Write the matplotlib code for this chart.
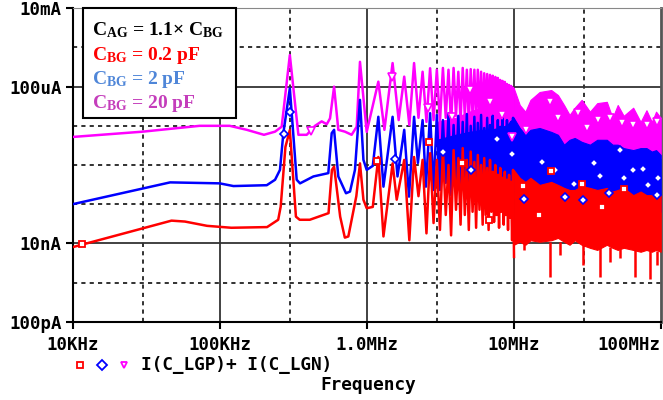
import matplotlib
matplotlib.use('Agg')
import matplotlib.pyplot as plt
from matplotlib.lines import Line2D
from matplotlib.patches import Rectangle
from matplotlib.ticker import NullLocator

plt.rcParams['mathtext.fontset'] = 'custom'
plt.rcParams['mathtext.rm'] = 'Liberation Serif:bold'
plt.rcParams['mathtext.it'] = 'Liberation Serif:bold'
plt.rcParams['mathtext.bf'] = 'Liberation Serif:bold'
plt.rcParams['lines.scale_dashes'] = False

# ---------------- data (frequency in Hz, current in A) ----------------
x_ticks = [1e4, 1e5, 1e6, 1e7, 1e8]
x_tick_labels = ['10KHz', '100KHz', '1.0MHz', '10MHz', '100MHz']
y_ticks = [1e-10, 1e-8, 1e-4, 1e-2]
y_tick_labels = ['100pA', '10nA', '100uA', '10mA']
grid_solid_x = [1e5, 1e6, 1e7]
grid_dash_x = [3e4, 3e5, 3e6, 3e7]
grid_solid_y = [1e-4, 1e-8]
grid_dash_y = [1e-3, 1e-5, 1e-6, 1e-7, 1e-9]

# low-frequency polylines (10 kHz .. 3 MHz)
red_f = [1.0e4, 4.7e4, 5.8e4, 8.2e4, 1.2e5, 2.1e5, 2.5e5, 2.6e5, 2.8e5, 3.0e5, 3.3e5, 3.5e5,
         4.1e5, 5.5e5, 5.8e5, 6.0e5, 6.6e5, 7.1e5, 7.5e5, 8.5e5, 9.0e5, 9.5e5, 1.0e6, 1.1e6,
         1.2e6, 1.3e6, 1.5e6, 1.6e6, 1.8e6, 1.95e6, 2.1e6, 2.25e6, 2.4e6, 2.55e6, 2.7e6, 2.85e6]
red_i = [8.0e-9, 3.8e-8, 3.6e-8, 2.8e-8, 2.5e-8, 2.6e-8, 4.0e-8, 8.7e-8, 2.9e-6, 7.8e-6, 4.8e-8, 4.0e-8,
         4.0e-8, 5.9e-8, 7.5e-7, 9.1e-7, 4.8e-8, 1.4e-8, 1.5e-8, 1.6e-7, 1.1e-6, 1.3e-7, 7.9e-8, 8.5e-8,
         1.6e-6, 1.5e-8, 1.1e-6, 1.3e-7, 1.35e-6, 1.2e-8, 1.6e-6, 1.6e-7, 1.35e-6, 1.8e-8, 2.0e-6, 3.3e-8]

blue_f = [1.0e4, 4.6e4, 1.0e5, 1.24e5, 2.09e5, 2.38e5, 2.57e5, 2.71e5, 3.0e5, 3.34e5, 3.52e5, 4.34e5,
          5.48e5, 5.78e5, 6.0e5, 6.41e5, 7.23e5, 7.7e5, 8.32e5, 9.0e5, 9.5e5, 1.0e6, 1.1e6, 1.2e6,
          1.3e6, 1.5e6, 1.62e6, 1.8e6, 1.94e6, 2.1e6, 2.23e6, 2.4e6, 2.53e6, 2.7e6, 2.85e6]
blue_i = [1.0e-7, 3.6e-7, 3.4e-7, 2.9e-7, 3.05e-7, 4.2e-7, 7.5e-7, 6.5e-6, 9.1e-5, 4.2e-7, 3.4e-7, 5.1e-7,
          6.2e-7, 6.5e-6, 7.9e-6, 5.1e-7, 1.9e-7, 2.1e-7, 7.5e-7, 4.6e-5, 1.35e-6, 7.5e-7, 9.5e-7, 1.7e-5,
          2.8e-7, 1.7e-5, 5.1e-7, 7.9e-6, 1.56e-7, 1.7e-5, 1.13e-6, 1.4e-5, 2.8e-7, 2.1e-5, 2.3e-7]

mag_f = [1.0e4, 3.0e4, 7.3e4, 1.17e5, 1.53e5, 2.0e5, 2.38e5, 2.64e5, 3.0e5, 3.43e5, 3.91e5, 4.45e5,
         4.94e5, 5.35e5, 5.63e5, 6.0e5, 6.41e5, 7.11e5, 7.9e5, 8.55e5, 9.0e5, 1.0e6, 1.2e6, 1.32e6,
         1.5e6, 1.65e6, 1.8e6, 1.95e6, 2.1e6, 2.25e6, 2.4e6, 2.55e6, 2.7e6, 2.85e6]
mag_i = [5.2e-6, 7.1e-6, 1.0e-5, 1.0e-5, 7.9e-6, 5.9e-6, 7.1e-6, 9.5e-6, 6.4e-4, 5.9e-6, 5.9e-6, 1.0e-5,
         1.3e-5, 1.1e-5, 1.55e-5, 1.0e-4, 7.9e-6, 7.1e-6, 5.9e-6, 9.5e-6, 4.3e-4, 7.0e-6, 1.34e-4, 7.9e-6,
         4.0e-4, 1.4e-5, 1.8e-4, 1.05e-5, 4.0e-4, 1.6e-5, 2.4e-4, 1.26e-5, 2.95e-4, 1.4e-5]

# 3 .. 10 MHz: harmonic peaks and the troughs between them
harm_f = [3.0e6, 3.3e6, 3.6e6, 3.9e6, 4.2e6, 4.5e6, 4.8e6, 5.1e6, 5.4e6, 5.7e6, 6.0e6, 6.3e6,
          6.6e6, 6.9e6, 7.2e6, 7.5e6, 7.8e6, 8.1e6, 8.4e6, 8.7e6, 9.0e6, 9.3e6, 9.6e6, 9.9e6]
trough_f = [3.15e6, 3.45e6, 3.75e6, 4.05e6, 4.35e6, 4.65e6, 4.95e6, 5.25e6, 5.55e6, 5.85e6, 6.15e6, 6.45e6,
            6.75e6, 7.05e6, 7.35e6, 7.65e6, 7.95e6, 8.25e6, 8.55e6, 8.85e6, 9.15e6, 9.45e6, 9.75e6, 1.005e7]
red_pk = [1.35e-6, 2.4e-6, 1.0e-6, 2.4e-6, 1.5e-6, 2.7e-6, 1.35e-6, 2.2e-6, 1.2e-6, 1.8e-6, 1.0e-6, 1.5e-6,
          8.4e-7, 1.35e-6, 6.7e-7, 1.0e-6, 5.6e-7, 8.4e-7, 4.7e-7, 6.7e-7, 4.2e-7, 5.6e-7, 3.7e-7, 7.5e-7]
red_tr = [2.2e-8, 5.3e-8, 1.6e-8, 7.2e-8, 3.0e-8, 5.3e-8, 2.2e-8, 6.4e-8, 2.5e-8, 7.2e-8, 3.0e-8, 5.3e-8,
          2.2e-8, 6.4e-8, 3.5e-8, 5.3e-8, 2.5e-8, 6.4e-8, 3.0e-8, 5.3e-8, 2.2e-8, 4.5e-8, 1.2e-8, 4.5e-9]
blue_pk = [1.9e-5, 1.4e-5, 2.1e-5, 1.05e-5, 1.8e-5, 1.26e-5, 2.0e-5, 1.0e-5, 1.7e-5, 1.19e-5, 1.9e-5, 8.8e-6,
           1.6e-5, 1.05e-5, 1.8e-5, 7.9e-6, 1.4e-5, 9.4e-6, 1.6e-5, 7.9e-6, 1.4e-5, 7.0e-6, 1.26e-5, 1.6e-5]
blue_tr = [2.3e-7, 3.5e-7, 1.7e-7, 4.2e-7, 2.3e-7, 3.1e-7, 1.7e-7, 3.7e-7, 2.0e-7, 3.1e-7, 1.7e-7, 3.5e-7,
           2.3e-7, 2.9e-7, 1.5e-7, 3.3e-7, 2.0e-7, 2.9e-7, 1.6e-7, 3.1e-7, 1.8e-7, 2.6e-7, 1.6e-7, 2.3e-7]
mag_pk = [2.7e-4, 3.0e-4, 2.7e-4, 3.0e-4, 2.4e-4, 3.0e-4, 2.7e-4, 2.8e-4, 2.7e-4, 2.7e-4, 2.4e-4, 2.2e-4,
          2.1e-4, 2.0e-4, 1.9e-4, 1.77e-4, 1.67e-4, 1.48e-4, 1.4e-4, 1.32e-4, 1.17e-4, 1.1e-4, 1.04e-4, 9.3e-5]
mag_tr = [1.26e-5, 1.6e-5, 1.05e-5, 1.8e-5, 1.26e-5, 1.7e-5, 1.12e-5, 1.8e-5, 1.4e-5, 1.6e-5, 1.05e-5, 1.8e-5,
          1.26e-5, 1.6e-5, 1.05e-5, 1.9e-5, 1.12e-5, 1.4e-5, 1.0e-5, 1.6e-5, 8.8e-6, 1.26e-5, 7.9e-6, 1.4e-5]

# 3 .. 10 MHz: solid cores under the spikes
core_f = [3.0e6, 4.0e6, 5.0e6, 6.0e6, 7.0e6, 8.0e6, 9.0e6, 1.0e7]
mag_core_hi = [1.26e-5, 1.6e-5, 2.3e-5, 2.9e-5, 2.9e-5, 2.5e-5, 2.3e-5, 4.0e-5]
mag_core_lo = [4.4e-6, 5.9e-6, 7.0e-6, 7.9e-6, 7.9e-6, 8.8e-6, 1.05e-5, 1.6e-5]
blue_core_hi = [4.4e-6, 5.9e-6, 7.0e-6, 7.9e-6, 7.9e-6, 8.8e-6, 1.05e-5, 1.6e-5]
blue_core_lo = [4.2e-7, 4.2e-7, 3.7e-7, 3.3e-7, 3.1e-7, 2.9e-7, 2.6e-7, 2.3e-7]

# 10 .. 100 MHz: dense band envelopes
band_f = [1.0e7, 1.1e7, 1.2e7, 1.3e7, 1.5e7, 1.8e7, 2.0e7, 2.2e7, 2.4e7, 2.6e7, 2.9e7, 3.3e7,
          3.7e7, 4.3e7, 4.7e7, 5.1e7, 5.6e7, 6.5e7, 7.3e7, 8.0e7, 8.7e7, 9.3e7, 1.0e8]
mag_hi = [9.3e-5, 3.4e-5, 2.3e-5, 4.6e-5, 7.3e-5, 8.2e-5, 6.1e-5, 3.4e-5, 1.9e-5, 2.9e-5, 4.6e-5, 2.3e-5,
          3.8e-5, 4.1e-5, 1.6e-5, 3.4e-5, 1.8e-5, 2.9e-5, 1.26e-5, 2.5e-5, 1.26e-5, 2.3e-5, 1.6e-5]
mag_lo = [8.0e-6, 5.0e-6, 4.0e-6, 4.0e-6, 4.0e-6, 4.0e-6, 4.0e-6, 2.5e-6, 3.0e-6, 3.0e-6, 2.5e-6, 2.5e-6,
          3.0e-6, 3.0e-6, 2.5e-6, 2.5e-6, 2.0e-6, 2.0e-6, 2.0e-6, 2.0e-6, 1.8e-6, 1.8e-6, 1.5e-6]
blue_hi = [1.6e-5, 8.8e-6, 5.9e-6, 7.9e-6, 8.8e-6, 7.0e-6, 5.9e-6, 3.3e-6, 4.4e-6, 4.9e-6, 3.9e-6, 3.3e-6,
           4.4e-6, 4.4e-6, 3.3e-6, 3.3e-6, 2.7e-6, 2.4e-6, 2.7e-6, 2.7e-6, 2.2e-6, 2.4e-6, 1.8e-6]
blue_lo = [2.3e-7, 1.7e-7, 1.3e-7, 1.3e-7, 1.1e-7, 9.6e-8, 9.6e-8, 9.6e-8, 9.6e-8, 9.6e-8, 9.6e-8, 9.6e-8,
           9.0e-8, 8.5e-8, 8.0e-8, 8.0e-8, 8.0e-8, 7.2e-8, 7.2e-8, 7.0e-8, 6.8e-8, 6.6e-8, 6.4e-8]
red_hi = [7.5e-7, 4.7e-7, 3.7e-7, 4.7e-7, 3.1e-7, 3.7e-7, 3.1e-7, 2.6e-7, 2.3e-7, 2.3e-7, 2.9e-7, 2.6e-7,
          2.3e-7, 2.6e-7, 2.1e-7, 2.3e-7, 2.6e-7, 1.7e-7, 2.1e-7, 1.7e-7, 1.7e-7, 2.1e-7, 1.7e-7]
red_lo = [9.2e-9, 1.1e-8, 9.2e-9, 1.2e-8, 1.1e-8, 1.2e-8, 1.38e-8, 1.1e-8, 9.2e-9, 1.2e-8, 9.2e-9, 7.7e-9,
          6.8e-9, 9.2e-9, 7.7e-9, 6.8e-9, 7.7e-9, 6.8e-9, 6.1e-9, 6.8e-9, 6.1e-9, 6.8e-9, 6.1e-9]
# deep red spikes below the band
red_spike_f = [1.18e7, 1.76e7, 2.07e7, 2.98e7, 3.89e7, 4.52e7, 5.3e7, 6.7e7, 8.45e7, 9.4e7]
red_spike_hi = [1.0e-8, 1.1e-8, 1.1e-8, 1.0e-8, 8.0e-9, 8.0e-9, 7.0e-9, 7.0e-9, 6.5e-9, 6.5e-9]
red_spike_lo = [6.8e-9, 1.4e-9, 5.1e-9, 2.8e-9, 1.4e-9, 3.4e-9, 4.3e-9, 1.4e-9, 1.24e-9, 2.8e-9]

# markers
red_mk_f = [1.15e4, 1.18e6, 2.66e6, 4.46e6, 6.81e6, 1.16e7, 1.49e7, 1.78e7, 2.92e7, 4.0e7, 5.6e7]
red_mk_i = [9.7e-9, 1.25e-6, 3.95e-6, 1.15e-6, 4.0e-8, 2.9e-7, 5.3e-8, 7.2e-7, 3.3e-7, 8.5e-8, 2.4e-7]
blue_mk_f = [2.74e5, 3.0e5, 1.57e6, 3.29e6, 5.09e6, 7.68e6, 9.8e6, 1.18e7, 1.57e7, 1.9e7, 2.22e7, 2.56e7,
             2.98e7, 3.52e7, 3.89e7, 4.44e7, 5.25e7, 5.67e7, 6.48e7, 7.55e7, 8.17e7, 9.5e7, 9.64e7]
blue_mk_i = [6.2e-6, 2.3e-5, 1.4e-6, 2.2e-6, 7.5e-7, 4.55e-6, 1.92e-6, 1.34e-7, 1.2e-6, 7.5e-7, 1.56e-7, 3.24e-7,
             1.3e-7, 1.11e-6, 5.3e-7, 1.98e-7, 2.4e-6, 4.6e-7, 7.5e-7, 7.8e-7, 3.1e-7, 1.7e-7, 4.6e-7]
mag_mk_f = [4.17e5, 1.48e6, 2.62e6, 3.79e6, 5.05e6, 6.9e6, 8.28e6, 9.69e6, 1.22e7, 1.77e7, 2.01e7, 2.75e7,
            3.14e7, 3.77e7, 4.52e7, 5.43e7, 6.51e7, 8.03e7, 9.4e7]
mag_mk_i = [7.4e-6, 1.8e-4, 2.8e-5, 1.7e-5, 8.2e-5, 4.1e-5, 1.9e-5, 5.3e-6, 7.9e-6, 4.1e-5, 1.55e-5, 2.1e-5,
            8.7e-6, 1.4e-5, 1.55e-5, 1.17e-5, 1.05e-5, 1.05e-5, 1.28e-5]

legend_lines = [r'C$_{\rm AG}$ = 1.1× C$_{\rm BG}$', r'C$_{\rm BG}$ = 0.2 pF',
                r'C$_{\rm BG}$ = 2 pF', r'C$_{\rm BG}$ = 20 pF']
legend_colors = ['black', '#ff0000', '#4f86d8', '#c43dbb']

RED, BLUE, MAG = '#ff0000', '#0000ff', '#ff00ff'


def assemble(base_f, base_i, pk, tr):
    f, i = list(base_f), list(base_i)
    for hf, p, tf, t in zip(harm_f, pk, trough_f, tr):
        f += [hf, tf]
        i += [p, t]
    return f, i


W, H = 663, 400
fig = plt.figure(figsize=(W / 100, H / 100), dpi=100)
L, R, T, B = 72.7, 660.7, 8.3, 321.7
ax = fig.add_axes([L / W, 1 - B / H, (R - L) / W, (B - T) / H])
ax.set_xscale('log')
ax.set_yscale('log')
ax.set_xlim(1e4, 1e8)
ax.set_ylim(1e-10, 1e-2)

for gx in grid_solid_x:
    ax.axvline(gx, color='#333333', lw=1.3, zorder=1)
for gx in grid_dash_x:
    ax.axvline(gx, color='#222222', lw=1.3, dashes=(3, 3), zorder=1)
for gy in grid_solid_y:
    ax.axhline(gy, color='#333333', lw=1.3, zorder=1)
for gy in grid_dash_y:
    ax.axhline(gy, color='#222222', lw=1.3, dashes=(3, 3), zorder=1)

lw = 1.8
# magenta
f, i = assemble(mag_f, mag_i, mag_pk, mag_tr)
ax.plot(f, i, color=MAG, lw=lw, zorder=3)
ax.fill_between(core_f, mag_core_lo, mag_core_hi, color=MAG, lw=0.8, zorder=3)
ax.fill_between(band_f, mag_lo, mag_hi, color=MAG, lw=0.8, zorder=3)
# blue
f, i = assemble(blue_f, blue_i, blue_pk, blue_tr)
ax.plot(f, i, color=BLUE, lw=lw, zorder=4)
ax.fill_between(core_f, blue_core_lo, blue_core_hi, color=BLUE, lw=0.8, zorder=4)
ax.fill_between(band_f, blue_lo, blue_hi, color=BLUE, lw=0.8, zorder=4)
# red
f, i = assemble(red_f, red_i, red_pk, red_tr)
ax.plot(f, i, color=RED, lw=lw, zorder=5)
ax.fill_between(band_f, red_lo, red_hi, color=RED, lw=0.8, zorder=5)
ax.vlines(red_spike_f, red_spike_lo, red_spike_hi, color=RED, lw=lw, zorder=5)

ax.plot(mag_mk_f, mag_mk_i, ls='none', marker='v', ms=5.5, mfc='white', mec=MAG, mew=1.2, zorder=6)
ax.plot(blue_mk_f, blue_mk_i, ls='none', marker='D', ms=4.5, mfc='white', mec=BLUE, mew=1.2, zorder=7)
ax.plot(red_mk_f, red_mk_i, ls='none', marker='s', ms=4.5, mfc='white', mec=RED, mew=1.3, zorder=8)

ax.set_xticks(x_ticks)
ax.set_xticklabels(x_tick_labels)
ax.set_yticks(y_ticks)
ax.set_yticklabels(y_tick_labels)
ax.xaxis.set_minor_locator(NullLocator())
ax.yaxis.set_minor_locator(NullLocator())
ax.tick_params(axis='both', which='major', direction='out', length=5, width=1.5, color='black')
ax.tick_params(axis='x', pad=5)
ax.tick_params(axis='y', pad=3)
for lab in ax.get_xticklabels() + ax.get_yticklabels():
    lab.set_fontfamily('DejaVu Sans Mono')
    lab.set_fontweight('bold')
    lab.set_fontsize(12.5)
ax.get_xticklabels()[-1].set_horizontalalignment('right')

ax.spines['left'].set_linewidth(1.5)
ax.spines['bottom'].set_linewidth(1.5)
ax.spines['top'].set_linewidth(0.8)
ax.spines['top'].set_color('#888888')
ax.spines['right'].set_linewidth(2)
ax.spines['right'].set_color('#555555')

# legend box
bx0, by0, bx1, by1 = 83.3, 8.3, 236, 118.3
fig.patches.append(Rectangle((bx0 / W, 1 - by1 / H), (bx1 - bx0) / W, (by1 - by0) / H,
                             transform=fig.transFigure, fc='white', ec='black', lw=1.5, zorder=10))
for k, (txt, col) in enumerate(zip(legend_lines, legend_colors)):
    fig.text(91.7 / W, 1 - (35.5 + 24 * k) / H, txt, color=col, fontsize=14,
             fontfamily='Liberation Serif', fontweight='bold', va='baseline', ha='left', zorder=11)

# bottom legend
for xm, mk, col in [(79.5, 's', RED), (101.5, 'D', BLUE), (124, 'v', MAG)]:
    fig.add_artist(Line2D([xm / W], [1 - 365 / H], transform=fig.transFigure, ls='none', marker=mk,
                          ms=5, mfc='white', mec=col, mew=1.3))
fig.text(141 / W, 1 - 365 / H, 'I(C_LGP)+ I(C_LGN)', fontfamily='DejaVu Sans Mono', fontweight='bold',
         fontsize=12.8, va='center', ha='left')
fig.text(368 / W, 1 - 385 / H, 'Frequency', fontfamily='DejaVu Sans Mono', fontweight='bold',
         fontsize=12.8, va='center', ha='center')

fig.savefig('out.png', dpi=100)
